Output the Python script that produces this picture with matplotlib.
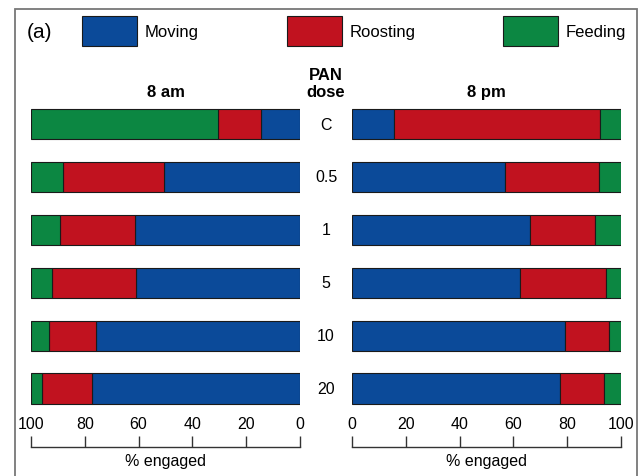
import matplotlib
matplotlib.use('Agg')
import matplotlib.pyplot as plt
from matplotlib.patches import Rectangle
import matplotlib.transforms as mtrans
import numpy as np

plt.rcParams['font.family'] = ['Liberation Sans', 'DejaVu Sans']

# ---- data ----
doses = ['C', '0.5', '1', '5', '10', '20']
behaviours = ['Moving', 'Roosting', 'Feeding']
am_moving = [14.5, 50.6, 61.3, 61.0, 76.0, 77.2]
am_roosting = [16.0, 37.4, 27.8, 31.3, 17.4, 18.8]
am_feeding = [69.5, 12.0, 10.9, 7.7, 6.6, 4.0]
pm_moving = [15.6, 56.8, 66.1, 62.3, 79.0, 77.5]
pm_roosting = [76.7, 35.0, 24.1, 32.0, 16.5, 16.2]
pm_feeding = [7.7, 8.2, 9.8, 5.7, 4.5, 6.3]
xticks = [0, 20, 40, 60, 80, 100]
panel_titles = ['8 am', '8 pm']
colors = ['#0b4a99', '#c1121f', '#0c8742']

W, H = 643, 477
fig = plt.figure(figsize=(W / 100, H / 100), dpi=100)


def fx(p):
    return p / W


def fy(p):
    return 1 - p / H


top_px, bot_px = 98.6, 416.0
axL = fig.add_axes([fx(31), fy(bot_px), 269 / W, (bot_px - top_px) / H])
axR = fig.add_axes([fx(352), fy(bot_px), 269 / W, (bot_px - top_px) / H])

y = np.arange(len(doses))
for ax, series in ((axL, (am_moving, am_roosting, am_feeding)),
                   (axR, (pm_moving, pm_roosting, pm_feeding))):
    left = np.zeros(len(doses))
    for vals, c in zip(series, colors):
        vals = np.array(vals)
        ax.barh(y, vals, left=left, height=0.57, color=c,
                edgecolor='#1a1a1a', linewidth=0.8)
        left += vals
    ax.set_ylim(len(doses) - 0.5, -0.5)
    for s in ('top', 'left', 'right'):
        ax.spines[s].set_visible(False)
    ax.spines['bottom'].set_position(('outward', 23))
    ax.spines['bottom'].set_bounds(0, 100)
    ax.spines['bottom'].set_linewidth(1.0)
    ax.spines['bottom'].set_color('#333333')
    ax.set_xticks(xticks)
    ax.set_xticklabels([str(t) for t in xticks])
    ax.tick_params(axis='x', direction='in', length=8, width=1.0,
                   color='#333333', pad=-22.5, labelsize=11.5)
    ax.tick_params(axis='y', left=False, labelleft=False)
    ax.set_facecolor('none')

axL.set_xlim(100, 0)
axR.set_xlim(0, 100)

# x labels
fig.text(fx(165.5), fy(462), '% engaged', ha='center', va='center', fontsize=11.5)
fig.text(fx(486.5), fy(462), '% engaged', ha='center', va='center', fontsize=11.5)

# panel titles
fig.text(fx(165.5), fy(93), panel_titles[0], ha='center', va='center',
         fontsize=12, fontweight='bold')
fig.text(fx(486.5), fy(93), panel_titles[1], ha='center', va='center',
         fontsize=12, fontweight='bold')
fig.text(fx(326), fy(84), 'PAN\ndose', ha='center', va='center',
         fontsize=12, fontweight='bold', linespacing=1.15)

# dose labels
trans = mtrans.blended_transform_factory(fig.transFigure, axL.transData)
for i, d in enumerate(doses):
    axL.text(fx(326), i, d, transform=trans, ha='center', va='center',
             fontsize=11.5, clip_on=False)

# legend
patch_x = [82, 287, 503]
for px, lab, c in zip(patch_x, behaviours, colors):
    fig.add_artist(Rectangle((fx(px), fy(47)), 55 / W, 30 / H,
                             transform=fig.transFigure, facecolor=c,
                             edgecolor='#1a1a1a', linewidth=0.8))
    fig.text(fx(px + 63), fy(32), lab, ha='left', va='center', fontsize=12)
fig.text(fx(27), fy(33), '(a)', ha='left', va='center', fontsize=15)

# frame
fig.add_artist(Rectangle((fx(15), fy(490)), (637 - 15) / W, (490 - 10) / H,
                         transform=fig.transFigure, fill=False,
                         edgecolor='#777777', linewidth=1.3))

fig.savefig('out.png', dpi=100)
